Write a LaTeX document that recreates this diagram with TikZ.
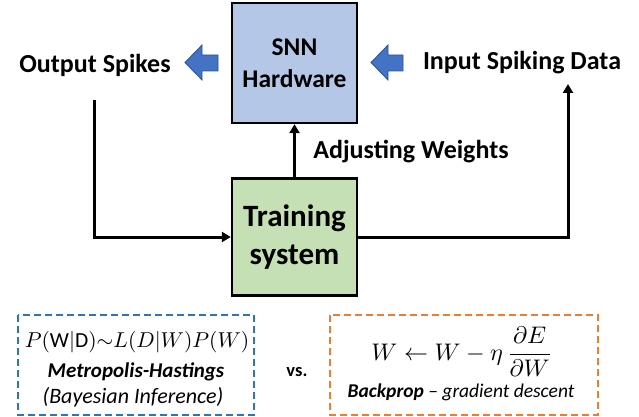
\documentclass[tikz,border=0pt]{standalone}
\usepackage{graphicx}
\usepackage{fontspec}
\setmainfont{Carlito}
\usetikzlibrary{arrows.meta}
\definecolor{snnblue}{HTML}{B4C7E7}
\definecolor{traingreen}{HTML}{C5E0B4}
\definecolor{blockblue}{HTML}{4472C4}
\definecolor{blockedge}{HTML}{2F528F}
\definecolor{dashblue}{HTML}{2E75B6}
\definecolor{dashorange}{HTML}{ED7D31}
\tikzset{
  mainbox/.style={draw=black, line width=2.4pt, minimum width=125pt, align=center, inner sep=0pt},
  lbl/.style={font=\fontsize{26}{30}\selectfont\bfseries, inner sep=0pt},
  conn/.style={line width=3pt, -{Triangle[length=9pt,width=10pt]}},
  blockarrow/.style={fill=blockblue, draw=blockedge, line width=0.8pt},
  dashbox/.style={line width=2.5pt, dash pattern=on 7pt off 4pt},
}
\begin{document}
\begin{tikzpicture}[x=1pt,y=-1pt]
\useasboundingbox (0,0) rectangle (639,417);

\node[mainbox, fill=snnblue, minimum height=120pt, font=\fontsize{25.5}{32}\selectfont\bfseries] (snn) at (294.5,63) {SNN\\Hardware};
\node[mainbox, fill=traingreen, minimum height=117pt, font=\fontsize{31}{38}\selectfont\bfseries] (train) at (294.5,237) {Training\\system};

\node[lbl] (out) at (95,65) {Output Spikes};
\node[lbl] (in) at (522,63) {Input Spiking Data};
\node[lbl] (adj) at (411,152) {Adjusting Weights};

% block arrows
\draw[blockarrow] (185,62.5) -- (202,45) -- (202,55) -- (218,55) -- (218,71) -- (202,71) -- (202,80) -- cycle;
\draw[blockarrow] (371,62.5) -- (388,45) -- (388,55) -- (403,55) -- (403,71) -- (388,71) -- (388,80) -- cycle;

% connectors
\coordinate (c1) at (94,100);
\coordinate (c2) at (568,84);
\draw[conn] (c1) |- (train.west);
\draw[conn] (train.east) -| (c2);
\draw[conn] (train.north) -- (snn.south);

% bottom comparison
\draw[dashbox, draw=dashblue] (18,315) rectangle (254,415);
\draw[dashbox, draw=dashorange] (330,315) rectangle (598,415);

\node[inner sep=0pt] (f1) at (137,342) {\scalebox{2.15}{$P(\mathrm{W}|\mathrm{D}){\sim}L(D|W)P(W)$}};
\node[inner sep=0pt, font=\fontsize{21}{25}\selectfont\bfseries\itshape] (mh) at (136,372) {Metropolis-Hastings};
\node[inner sep=0pt, font=\fontsize{22}{26}\selectfont\itshape] (bi) at (133,397) {(Bayesian Inference)};

\node[inner sep=0pt, font=\fontsize{18.5}{22}\selectfont\bfseries] (vs) at (297,372) {vs.};

\node[inner sep=0pt] (f2) at (462,352) {\scalebox{2.4}{$\displaystyle W \leftarrow W - \eta\,\frac{\partial E}{\partial W}$}};
\node[inner sep=0pt, font=\fontsize{19.5}{24}\selectfont\itshape] (bp) at (461,392) {\textbf{Backprop} – gradient descent};
\end{tikzpicture}
\end{document}
